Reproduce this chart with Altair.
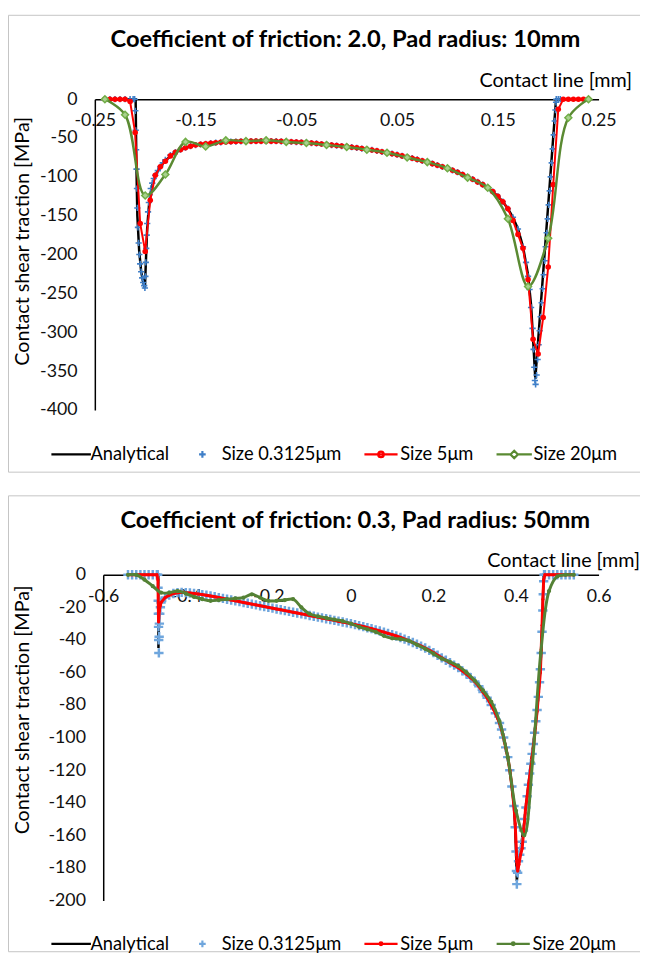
import altair as alt
import pandas as pd

FONT = "Lato"
SERIES = ["Analytical", "Size 0.3125μm", "Size 5μm", "Size 20μm"]

# ---------------- top panel (mu = 2.0, R = 10 mm) ----------------
TOP_TITLE = "Coefficient of friction: 2.0, Pad radius: 10mm"
TOP_X_TICKS = [-0.25, -0.15, -0.05, 0.05, 0.15, 0.25]
TOP_Y_TICKS = [0, -50, -100, -150, -200, -250, -300, -350, -400]

# common central part (all fine solutions coincide here)
TOP_MID = [(-0.15, -59), (-0.145, -58.2), (-0.14, -57.5), (-0.135, -56.7), (-0.13, -56),
           (-0.125, -55.5), (-0.12, -55), (-0.115, -54.7), (-0.11, -54.5), (-0.105, -54.2),
           (-0.1, -54), (-0.095, -54), (-0.09, -54), (-0.085, -54), (-0.08, -54),
           (-0.075, -54), (-0.07, -54.1), (-0.065, -54.3), (-0.06, -54.5), (-0.055, -54.8),
           (-0.05, -55.2), (-0.045, -55.6), (-0.04, -56), (-0.035, -56.5), (-0.03, -57),
           (-0.025, -57.7), (-0.02, -58.4), (-0.015, -59), (-0.01, -59.7), (-0.005, -60.3),
           (0.0, -61), (0.005, -61.8), (0.01, -62.6), (0.015, -63.5), (0.02, -64.4),
           (0.025, -65.4), (0.03, -66.5), (0.035, -67.7), (0.04, -69), (0.045, -70.2),
           (0.05, -71.5), (0.055, -73), (0.06, -74.5), (0.065, -76), (0.07, -77.6),
           (0.075, -79.3), (0.08, -81), (0.085, -83), (0.09, -85), (0.095, -87),
           (0.1, -89), (0.105, -91.5), (0.11, -94), (0.115, -97), (0.12, -100),
           (0.125, -103), (0.13, -106.5), (0.135, -110), (0.14, -114), (0.145, -119),
           (0.15, -125), (0.155, -132), (0.16, -141)]

TOP_ANA_LEFT = [(-0.24, 0), (-0.2095, 0), (-0.2088, -80), (-0.2078, -150), (-0.206, -195),
                (-0.204, -222), (-0.202, -236), (-0.2003, -243), (-0.1995, -215), (-0.198, -165),
                (-0.196, -133), (-0.1935, -112), (-0.19, -98), (-0.185, -87), (-0.18, -79),
                (-0.17, -68), (-0.16, -62.5)]
TOP_ANA_RIGHT = [(0.165, -152), (0.17, -167), (0.175, -190), (0.18, -226), (0.183, -265),
                 (0.1855, -320), (0.1872, -360), (0.2078, 0), (0.24, 0)]

TOP_BLUE_LEFT = [(-0.24, 0), (-0.235, 0), (-0.23, 0), (-0.225, 0), (-0.22, 0), (-0.215, 0),
                 (-0.212, 0), (-0.2105, 0), (-0.2098, -15), (-0.2094, -40), (-0.209, -65),
                 (-0.2086, -90), (-0.2082, -115), (-0.2078, -140), (-0.2072, -165),
                 (-0.2065, -185), (-0.2058, -200), (-0.205, -212), (-0.204, -222),
                 (-0.203, -230), (-0.202, -236), (-0.201, -240), (-0.2003, -243),
                 (-0.1998, -228), (-0.1994, -210), (-0.199, -192), (-0.1985, -175),
                 (-0.198, -160), (-0.1972, -145), (-0.1964, -133), (-0.1955, -123),
                 (-0.1945, -115), (-0.193, -108), (-0.1915, -102), (-0.19, -98),
                 (-0.1875, -92), (-0.185, -87), (-0.1825, -82), (-0.18, -78), (-0.175, -72),
                 (-0.17, -68), (-0.165, -65), (-0.16, -62.5), (-0.155, -60.5)]
TOP_BLUE_RIGHT = [(0.165, -152), (0.17, -167), (0.175, -190), (0.178, -210), (0.18, -228),
                  (0.1815, -245), (0.183, -268), (0.1845, -295), (0.1855, -322),
                  (0.1862, -345), (0.1868, -362), (0.1875, -367), (0.1885, -355),
                  (0.1895, -335), (0.1905, -316), (0.1915, -298), (0.1925, -280),
                  (0.1935, -262), (0.1945, -244), (0.1955, -226), (0.1965, -208),
                  (0.1975, -190), (0.1985, -172), (0.1995, -154), (0.2005, -136),
                  (0.2015, -118), (0.2025, -100), (0.2035, -82), (0.2045, -64),
                  (0.2055, -46), (0.2065, -28), (0.2072, -14), (0.2078, -4), (0.208, 0),
                  (0.21, 0), (0.212, 0)]

TOP_RED_LEFT = [(-0.24, 0), (-0.235, 0), (-0.23, 0), (-0.225, 0), (-0.22, 0), (-0.215, -3),
                (-0.21, -43), (-0.205, -160), (-0.2, -196), (-0.195, -130), (-0.19, -98),
                (-0.185, -87), (-0.18, -80), (-0.175, -73), (-0.17, -68.5), (-0.165, -65),
                (-0.16, -62.5), (-0.155, -60.5)]
TOP_RED_RIGHT = [(0.165, -156), (0.17, -174), (0.175, -192), (0.18, -232), (0.185, -309),
                 (0.19, -328), (0.195, -281), (0.2, -216), (0.205, -110), (0.21, -13),
                 (0.215, 0), (0.22, 0), (0.225, 0), (0.23, 0), (0.235, 0), (0.24, 0)]

TOP_GREEN = [(-0.24, 0), (-0.22, -20), (-0.2, -124), (-0.18, -97), (-0.16, -55), (-0.14, -61),
             (-0.12, -53), (-0.1, -54), (-0.08, -53), (-0.06, -55), (-0.04, -56.5),
             (-0.02, -59), (0.0, -61.5), (0.02, -65), (0.04, -69), (0.06, -75), (0.08, -81),
             (0.1, -89), (0.12, -101), (0.14, -114), (0.16, -154), (0.18, -241),
             (0.2, -179), (0.22, -24), (0.24, 0)]

# ---------------- bottom panel (mu = 0.3, R = 50 mm) ----------------
BOT_TITLE = "Coefficient of friction: 0.3, Pad radius: 50mm"
BOT_X_TICKS = [-0.6, -0.4, -0.2, 0, 0.2, 0.4, 0.6]
BOT_Y_TICKS = [0, -20, -40, -60, -80, -100, -120, -140, -160, -180, -200]

BOT_MID = [(-0.46, -17), (-0.45, -14), (-0.44, -12.5), (-0.43, -11.5), (-0.42, -11),
           (-0.41, -10.8), (-0.4, -11), (-0.39, -11.2), (-0.38, -11.5), (-0.37, -11.8),
           (-0.36, -12.2), (-0.35, -12.6), (-0.34, -13), (-0.33, -13.5), (-0.32, -14),
           (-0.31, -14.5), (-0.3, -15), (-0.29, -15.5), (-0.28, -16), (-0.27, -16.5),
           (-0.26, -17), (-0.25, -17.5), (-0.24, -18), (-0.23, -18.5), (-0.22, -19),
           (-0.21, -19.5), (-0.2, -20), (-0.19, -20.5), (-0.18, -21), (-0.17, -21.5),
           (-0.16, -22), (-0.15, -22.5), (-0.14, -23), (-0.13, -23.5), (-0.12, -24),
           (-0.11, -24.5), (-0.1, -25), (-0.09, -25.5), (-0.08, -26), (-0.07, -26.5),
           (-0.06, -27), (-0.05, -27.5), (-0.04, -28), (-0.03, -28.5), (-0.02, -29),
           (-0.01, -29.5), (0.0, -30), (0.01, -30.6), (0.02, -31.2), (0.03, -31.8),
           (0.04, -32.5), (0.05, -33.1), (0.06, -33.8), (0.07, -34.5), (0.08, -35.2),
           (0.09, -36), (0.1, -36.8), (0.11, -37.6), (0.12, -38.5), (0.13, -39.5),
           (0.14, -40.5), (0.15, -41.6), (0.16, -42.7), (0.17, -43.8), (0.18, -45),
           (0.19, -46.4), (0.2, -47.8), (0.21, -49.4), (0.22, -51), (0.23, -52.5),
           (0.24, -54), (0.25, -55.5), (0.26, -57), (0.27, -59), (0.28, -61),
           (0.29, -63.2), (0.3, -65.5), (0.31, -68.5), (0.32, -72), (0.33, -75.5),
           (0.34, -80), (0.35, -85), (0.36, -91), (0.365, -95), (0.37, -100),
           (0.375, -106), (0.38, -112), (0.385, -120), (0.39, -130), (0.395, -142)]

BOT_ANA_LEFT = [(-0.54, 0), (-0.4666, 0), (-0.4662, -45), (-0.4648, -28), (-0.463, -21)]
BOT_ANA_RIGHT = [(0.398, -155), (0.4, -170), (0.402, -188), (0.405, -180), (0.41, -171),
                 (0.42, -152), (0.43, -129), (0.44, -108), (0.45, -85), (0.455, -72),
                 (0.46, -53), (0.464, -28), (0.4668, 0), (0.54, 0)]

BOT_BLUE_LEFT = [(-0.54, 0), (-0.53, 0), (-0.52, 0), (-0.51, 0), (-0.5, 0), (-0.49, 0),
                 (-0.48, 0), (-0.47, 0), (-0.468, 0), (-0.4672, -8), (-0.4668, -16),
                 (-0.4664, -24), (-0.466, -32), (-0.4656, -40), (-0.4652, -48),
                 (-0.4645, -38), (-0.464, -30), (-0.463, -24), (-0.4615, -20)]
BOT_BLUE_RIGHT = [(0.398, -155), (0.4, -170), (0.401, -182), (0.402, -190), (0.404, -183),
                  (0.406, -176), (0.409, -172), (0.412, -168), (0.415, -164), (0.418, -157),
                  (0.421, -150), (0.424, -143), (0.427, -136), (0.43, -129), (0.433, -122),
                  (0.436, -116), (0.439, -110), (0.442, -104), (0.445, -97), (0.448, -90),
                  (0.451, -83), (0.454, -75), (0.457, -66), (0.459, -58), (0.461, -48),
                  (0.463, -35), (0.465, -22), (0.466, -12), (0.467, -4), (0.468, 0),
                  (0.47, 0), (0.48, 0), (0.49, 0), (0.5, 0), (0.51, 0), (0.52, 0),
                  (0.53, 0), (0.54, 0)]

BOT_RED_LEFT = [(-0.54, 0), (-0.53, 0), (-0.52, 0), (-0.51, 0), (-0.5, 0), (-0.49, 0),
                (-0.48, 0), (-0.47, 0), (-0.4675, -3), (-0.466, -29), (-0.464, -22),
                (-0.462, -19)]
BOT_RED_RIGHT = [(0.398, -153), (0.4, -164), (0.402, -176), (0.404, -182), (0.407, -178),
                 (0.411, -172), (0.415, -168), (0.419, -156), (0.423, -144), (0.427, -136),
                 (0.431, -128), (0.435, -120), (0.439, -112), (0.443, -104), (0.447, -94),
                 (0.451, -84), (0.455, -72), (0.459, -60), (0.461, -46), (0.463, -31),
                 (0.465, -15), (0.467, -3), (0.47, 0), (0.48, 0), (0.49, 0), (0.5, 0),
                 (0.51, 0), (0.52, 0), (0.53, 0), (0.54, 0)]

BOT_GREEN = [(-0.54, 0), (-0.52, 0), (-0.5, -3), (-0.48, -7), (-0.46, -11), (-0.44, -11),
             (-0.42, -10), (-0.4, -11.5), (-0.38, -13.5), (-0.36, -15), (-0.34, -16),
             (-0.32, -15.5), (-0.3, -15), (-0.28, -14.5), (-0.26, -14), (-0.24, -12),
             (-0.22, -14), (-0.2, -16), (-0.18, -16), (-0.16, -15.5), (-0.14, -15),
             (-0.12, -20), (-0.1, -24), (-0.08, -25.5), (-0.06, -26.5), (-0.04, -27.5),
             (-0.02, -28.5), (0.0, -30), (0.02, -32), (0.04, -33.5), (0.06, -35),
             (0.08, -37.5), (0.1, -39), (0.12, -39.5), (0.14, -40.5), (0.16, -43),
             (0.18, -45.5), (0.2, -48.5), (0.22, -51.5), (0.24, -53.5), (0.26, -56),
             (0.28, -60), (0.3, -65), (0.32, -71), (0.34, -78), (0.36, -90), (0.38, -112),
             (0.4, -145), (0.42, -160), (0.44, -115), (0.46, -48), (0.48, -10),
             (0.5, -1), (0.52, 0), (0.54, 0)]

CROSS = "M-1,0L1,0M0,-1L0,1"
LEG_SIZE = 784  # 28 px symbol box


def df_of(*parts):
    rows = [p for part in parts for p in part]
    return pd.DataFrame(rows, columns=["x", "y"])


def one_row():
    return pd.DataFrame({"k": [0]})


def text_layer(txt, x, y, size, bold=False, align="center", angle=0):
    kw = dict(text=txt, font=FONT, fontSize=size, align=align, baseline="middle",
              color="black", fontWeight="bold" if bold else "normal")
    if angle:
        kw["angle"] = angle
    return alt.Chart(one_row()).mark_text(**kw).encode(x=alt.value(x), y=alt.value(y))


def rule_layer(x1, x2, y1, y2):
    return alt.Chart(one_row()).mark_rule(color="#c4c4c4", strokeWidth=1).encode(
        x=alt.value(x1), x2=alt.value(x2), y=alt.value(y1), y2=alt.value(y2))


def panel(p):
    W, H = p["W"], p["H"]
    sx = dict(domain=p["xdom"], nice=False, zero=False)
    if p.get("xrange"):
        sx["range"] = p["xrange"]
    xaxis = alt.Axis(values=p["xticks"], orient="bottom", offset=-H, ticks=False, grid=False,
                     domainColor="black", domainWidth=1.5,
                     labelExpr="toString(datum.value)", labelFont=FONT, labelFontSize=18,
                     labelColor="#111111", labelPadding=13, labelFlush=False,
                     labelOverlap=False, title=None)
    yaxis = alt.Axis(values=p["yticks"], ticks=False, grid=False, domainColor="black",
                     domainWidth=1.5, labelExpr="toString(datum.value)", labelFont=FONT,
                     labelFontSize=18, labelColor="#111111", labelPadding=18,
                     labelOverlap=False, title=None, offset=p["yoff"])
    X = alt.X("x:Q", scale=alt.Scale(**sx), axis=xaxis)
    Y = alt.Y("y:Q", scale=alt.Scale(domain=p["ydom"], nice=False, zero=False), axis=yaxis)

    b = p["border"]
    layers = [
        rule_layer(b[0], b[1], b[2], b[2]),
        rule_layer(b[0], b[1], b[3], b[3]),
        rule_layer(b[0], b[0], b[2], b[3]),
    ]
    st = p["style"]
    layers.append(alt.Chart(p["ana"]).mark_line(color="black", strokeWidth=2.5)
                  .encode(x=X, y=Y))
    layers.append(alt.Chart(p["blue"]).mark_point(shape=CROSS, filled=False, size=st["bsize"],
                                                   strokeWidth=st["bsw"], color=st["blue"],
                                                   opacity=1)
                  .encode(x=X, y=Y))
    layers.append(alt.Chart(p["red"]).mark_line(color="#ff0000", strokeWidth=st["rsw"])
                  .encode(x=X, y=Y))
    layers.append(alt.Chart(p["red"]).mark_circle(color="#ff0000", size=st["rsize"], opacity=1)
                  .encode(x=X, y=Y))
    layers.append(alt.Chart(p["green"]).mark_line(color=st["green"], strokeWidth=st["gsw"],
                                                   interpolate="catmull-rom")
                  .encode(x=X, y=Y))
    layers.append(alt.Chart(p["green"]).mark_point(shape=st["gshape"], filled=True,
                                                    size=st["gsize"], fill=st["gfill"],
                                                    stroke=st["gstroke"], strokeWidth=1.5,
                                                    opacity=1)
                  .encode(x=X, y=Y))

    leg_df = pd.DataFrame({"series": SERIES, "x": [0, 0, 0, 0], "y": [100000] * 4})
    legend = alt.Legend(orient="none", legendX=p["legxy"][0], legendY=p["legxy"][1],
                        direction="horizontal", title=None, symbolSize=LEG_SIZE,
                        symbolStrokeWidth=2.2, labelFont=FONT, labelFontSize=18.5,
                        labelColor="black", columnPadding=18, labelOffset=4, padding=0)
    layers.append(alt.Chart(leg_df).mark_point(filled=False, size=LEG_SIZE, strokeWidth=2.2,
                                                opacity=1, clip=True)
                  .encode(x=X, y=Y,
                          color=alt.Color("series:N",
                                          scale=alt.Scale(domain=SERIES,
                                                          range=["black", st["blue"],
                                                                 "#ff0000", st["green"]]),
                                          legend=legend),
                          shape=alt.Shape("series:N",
                                          scale=alt.Scale(domain=SERIES, range=p["legpaths"]),
                                          legend=legend)))
    t = p["texts"]
    layers.append(text_layer(p["title"], t["title"][0], t["title"][1], 24, bold=True))
    layers.append(text_layer("Contact line [mm]", t["xt"][0], t["xt"][1], 20, align="right"))
    layers.append(text_layer("Contact shear traction [MPa]", t["yt"][0], t["yt"][1], 20,
                             angle=270))
    return alt.layer(*layers).properties(width=W, height=H)


top = panel(dict(
    W=510.5, H=315, xdom=[-0.25, 0.25], xticks=TOP_X_TICKS, ydom=[-400, 0],
    yticks=TOP_Y_TICKS, yoff=0,
    ana=df_of(TOP_ANA_LEFT, TOP_MID, TOP_ANA_RIGHT),
    blue=df_of(TOP_BLUE_LEFT, TOP_MID, TOP_BLUE_RIGHT),
    red=df_of(TOP_RED_LEFT, TOP_MID, TOP_RED_RIGHT),
    green=df_of(TOP_GREEN),
    style=dict(blue="#3f7fc8", bsize=40, bsw=1.6, rsw=2, rsize=32, green="#5a8a32", gsw=2.5,
               gshape="diamond", gsize=50, gfill="#a9d18e", gstroke="#70ad47"),
    legpaths=["M-1.43,0L1.43,0", "M-0.24,0L0.24,0M0,-0.24L0,0.24",
              "M-1.2,0L1.2,0M-0.2,0A0.2,0.2 0 1,0 0.2,0A0.2,0.2 0 1,0 -0.2,0Z",
              "M-1.28,0L-0.27,0M0.27,0L1.28,0M-0.27,0L0,-0.27L0.27,0L0,0.27Z"],
    legxy=(-39.5, 344.5),
    title=TOP_TITLE,
    texts=dict(title=(254, -60), xt=(544.5, -18), yt=(-72.5, 144)),
    border=(-87.5, 552.5, -85, 378),
))

bottom = panel(dict(
    W=510.5, H=330, xdom=[-0.6, 0.6], xrange=[8.5, 510.5], xticks=BOT_X_TICKS,
    ydom=[-200, 0], yticks=BOT_Y_TICKS, yoff=-8.5,
    ana=df_of(BOT_ANA_LEFT, BOT_MID, BOT_ANA_RIGHT),
    blue=df_of(BOT_BLUE_LEFT, BOT_MID, BOT_BLUE_RIGHT),
    red=df_of(BOT_RED_LEFT, BOT_MID, BOT_RED_RIGHT),
    green=df_of(BOT_GREEN),
    style=dict(blue="#6fa6dd", bsize=90, bsw=2.5, rsw=3, rsize=10, green="#548235", gsw=3,
               gshape="circle", gsize=8, gfill="#548235", gstroke="#548235"),
    legpaths=["M-1.43,0L1.43,0", "M-0.24,0L0.24,0M0,-0.24L0,0.24",
              "M-1.2,0L1.2,0M-0.1,0A0.1,0.1 0 1,0 0.1,0A0.1,0.1 0 1,0 -0.1,0Z",
              "M-1.2,0L1.2,0M-0.1,0A0.1,0.1 0 1,0 0.1,0A0.1,0.1 0 1,0 -0.1,0Z"],
    legxy=(-39.5, 358.5),
    title=BOT_TITLE,
    texts=dict(title=(264, -54), xt=(552.5, -14), yt=(-72.5, 137)),
    border=(-87.5, 552.5, -80, 382),
))

chart = (
    alt.vconcat(top, bottom, spacing=167, bounds="flush")
    .resolve_scale(color="independent", shape="independent")
    .resolve_legend(color="independent", shape="independent")
    .properties(padding=0, background="white")
    .configure_view(stroke=None)
)

chart.save("out.html", embed_options={"renderer": "svg", "actions": False})
